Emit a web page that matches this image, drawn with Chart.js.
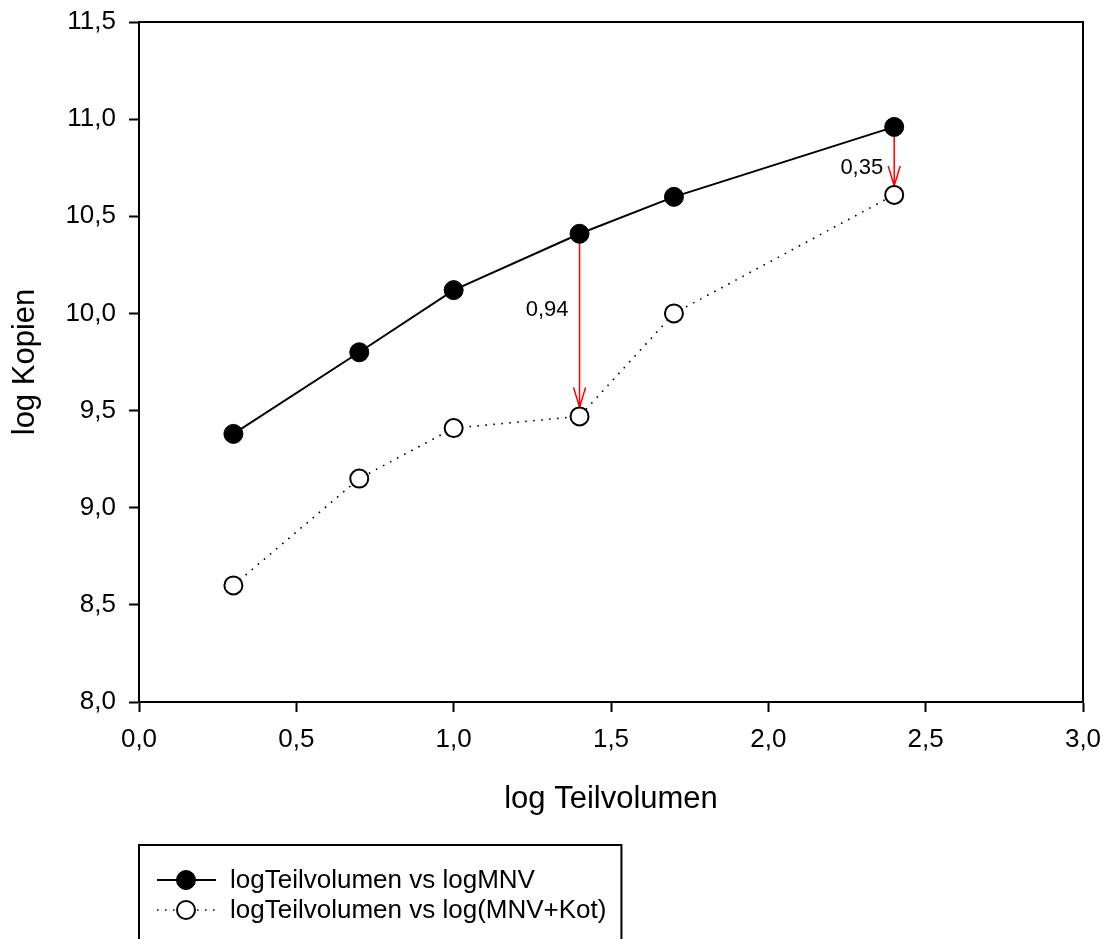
<!DOCTYPE html>
<html>
<head>
<meta charset="utf-8">
<script src="https://cdn.jsdelivr.net/npm/chart.js@4"></script>
<style>
  body { margin: 0; background: #fff; }
  canvas { display: block; }
</style>
</head>
<body>
<canvas id="chart" width="1107" height="939"></canvas>
<script>
// data
const logTeilvolumen = [0.3, 0.7, 1.0, 1.4, 1.7, 2.4];
const logMNV = [9.38, 9.80, 10.12, 10.41, 10.60, 10.96];
const logMNVKot = [8.60, 9.15, 9.41, 9.47, 10.00, 10.61];
const seriesLabels = ["logTeilvolumen vs logMNV", "logTeilvolumen vs log(MNV+Kot)"];

// red arrows between the two series
const arrowX = [1.4, 2.4];
const arrowText = ["0,94", "0,35"];
const arrowTextY = [10.02, 10.75];

const xMin = 0, xMax = 3, xStep = 0.5;
const yMin = 8, yMax = 11.5, yStep = 0.5;

const FONT = "'Liberation Sans', Arial, sans-serif";

function fmt(v) {
    return v.toFixed(1).replace(".", ",");
}

function points(ys) {
    return logTeilvolumen.map((x, i) => ({ x: x, y: ys[i] }));
}

// box around the plot area
const frame = {
    id: "frame",
    afterDatasetsDraw(chart) {
        const a = chart.chartArea;
        const ctx = chart.ctx;
        ctx.save();
        ctx.strokeStyle = "#000";
        ctx.lineWidth = 2;
        ctx.beginPath();
        ctx.moveTo(a.left, a.top);
        ctx.lineTo(a.right, a.top);
        ctx.lineTo(a.right, a.bottom);
        ctx.stroke();
        ctx.restore();
    }
};

const arrows = {
    id: "arrows",
    beforeDatasetsDraw(chart) {
        const xs = chart.scales.x, ys = chart.scales.y;
        const ctx = chart.ctx;
        const r = chart.data.datasets[1].pointRadius;
        ctx.save();
        ctx.strokeStyle = "#ff0000";
        ctx.fillStyle = "#000";
        ctx.lineWidth = 1.5;
        ctx.font = "22px " + FONT;
        ctx.textAlign = "right";
        ctx.textBaseline = "middle";
        arrowX.forEach((xv, k) => {
            const i = logTeilvolumen.indexOf(xv);
            const px = xs.getPixelForValue(xv);
            const y1 = ys.getPixelForValue(logMNV[i]);
            const y2 = ys.getPixelForValue(logMNVKot[i]) - r;
            ctx.beginPath();
            ctx.moveTo(px, y1);
            ctx.lineTo(px, y2);
            ctx.moveTo(px - 6, y2 - 20);
            ctx.lineTo(px, y2);
            ctx.lineTo(px + 6, y2 - 20);
            ctx.stroke();
            ctx.fillText(arrowText[k], px - 11, ys.getPixelForValue(arrowTextY[k]));
        });
        ctx.restore();
    }
};

const legendBox = {
    id: "legendBox",
    afterDraw(chart) {
        const ctx = chart.ctx;
        const left = chart.chartArea.left;
        const top = 845;
        ctx.save();
        ctx.font = "26px " + FONT;
        const w = Math.max(...chart.data.datasets.map(d => ctx.measureText(d.label).width));
        ctx.strokeStyle = "#000";
        ctx.lineWidth = 2;
        ctx.strokeRect(left, top, w + 106, 120);
        ctx.textBaseline = "middle";
        ctx.textAlign = "left";
        chart.data.datasets.forEach((ds, i) => {
            const y = 880 + i * 30;
            ctx.save();
            ctx.strokeStyle = "#000";
            ctx.lineWidth = ds.borderWidth;
            ctx.setLineDash(ds.borderDash || []);
            ctx.beginPath();
            ctx.moveTo(left + 18, y);
            ctx.lineTo(left + 77, y);
            ctx.stroke();
            ctx.setLineDash([]);
            ctx.beginPath();
            ctx.arc(left + 47, y, ds.pointRadius, 0, Math.PI * 2);
            ctx.fillStyle = ds.pointBackgroundColor;
            ctx.fill();
            ctx.lineWidth = ds.pointBorderWidth;
            ctx.strokeStyle = ds.pointBorderColor;
            ctx.stroke();
            ctx.restore();
            ctx.fillStyle = "#000";
            ctx.fillText(ds.label, left + 91, y + 1);
        });
        ctx.restore();
    }
};

const ctx = document.getElementById("chart").getContext("2d");
const chart = new Chart(ctx, {
    type: "line",
    data: {
        datasets: [
            {
                label: seriesLabels[0],
                data: points(logMNV),
                borderColor: "#000",
                borderWidth: 2,
                pointRadius: 9.5,
                pointBackgroundColor: "#000",
                pointBorderColor: "#000",
                pointBorderWidth: 1,
                tension: 0,
                fill: false,
            },
            {
                label: seriesLabels[1],
                data: points(logMNVKot),
                borderColor: "#000",
                borderWidth: 1.6,
                borderDash: [1.6, 6.4],
                pointRadius: 9,
                pointBackgroundColor: "#fff",
                pointBorderColor: "#000",
                pointBorderWidth: 2,
                tension: 0,
                fill: false,
            },
        ],
    },
    options: {
        responsive: false,
        animation: false,
        layout: { padding: { top: 22, right: 24, bottom: 121, left: 0 } },
        plugins: {
            legend: { display: false },
            tooltip: { enabled: false },
        },
        scales: {
            x: {
                type: "linear",
                position: "bottom",
                min: xMin,
                max: xMax,
                afterFit: (s) => { s.height = 116; s.paddingLeft = 0; s.paddingRight = 0; },
                ticks: {
                    stepSize: xStep,
                    color: "#000",
                    padding: 12,
                    font: { family: FONT, size: 26 },
                    callback: (v) => fmt(v),
                },
                grid: { drawOnChartArea: false, drawTicks: true, tickLength: 10, tickWidth: 2, color: "#000" },
                border: { display: true, color: "#000", width: 2 },
                title: {
                    display: true,
                    text: "log Teilvolumen",
                    color: "#000",
                    font: { family: FONT, size: 31 },
                    padding: { top: 0, bottom: 0 },
                },
            },
            y: {
                type: "linear",
                min: yMin,
                max: yMax,
                afterFit: (s) => { s.width = 139; s.paddingTop = 0; s.paddingBottom = 0; },
                ticks: {
                    stepSize: yStep,
                    color: "#000",
                    padding: 13,
                    font: { family: FONT, size: 26 },
                    callback: (v) => fmt(v),
                },
                grid: { drawOnChartArea: false, drawTicks: true, tickLength: 10, tickWidth: 2, color: "#000" },
                border: { display: true, color: "#000", width: 2 },
                title: {
                    display: true,
                    text: "log Kopien",
                    color: "#000",
                    font: { family: FONT, size: 31 },
                    padding: { top: 7, bottom: 0 },
                },
            },
        },
    },
    plugins: [frame, arrows, legendBox],
});
</script>
</body>
</html>
